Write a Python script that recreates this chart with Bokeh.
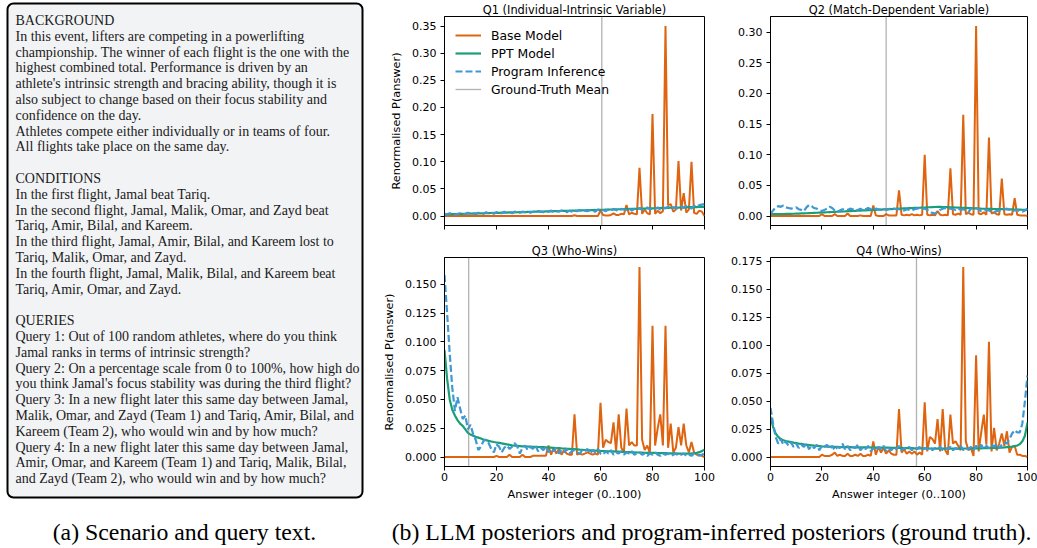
from bokeh.plotting import figure
from bokeh.layouts import row, column
from bokeh.models import (Range1d, FixedTicker, PrintfTickFormatter, Legend,
                          LegendItem, BoxAnnotation, ColumnDataSource)
from bokeh.core.properties import value
from bokeh.embed import file_html
from bokeh.resources import INLINE

# ---------------- data ----------------
answers = list(range(101))

base_q1 = [0.0]*50 + [0.0015] + [0.0]*9 + [
    0.010, 0.002, 0.001, 0.001, 0.002, 0.005, 0.002, 0.002, 0.004, 0.003,
    0.020, 0.003, 0.006, 0.004, 0.003, 0.089, 0.004, 0.012, 0.005, 0.003,
    0.188, 0.004, 0.010, 0.005, 0.009, 0.350, 0.020, 0.022, 0.008, 0.012,
    0.101, 0.010, 0.042, 0.006, 0.012, 0.100, 0.006, 0.004, 0.010, 0.008,
    0.000]
ppt_q1 = [
    0.0030, 0.0031, 0.0033, 0.0034, 0.0036, 0.0037, 0.0038, 0.0040, 0.0041, 0.0043,
    0.0044, 0.0045, 0.0047, 0.0048, 0.0050, 0.0051, 0.0052, 0.0054, 0.0055, 0.0057,
    0.0058, 0.0059, 0.0061, 0.0062, 0.0064, 0.0065, 0.0066, 0.0068, 0.0069, 0.0071,
    0.0072, 0.0073, 0.0075, 0.0076, 0.0078, 0.0079, 0.0080, 0.0082, 0.0083, 0.0085,
    0.0086, 0.0087, 0.0089, 0.0090, 0.0092, 0.0093, 0.0094, 0.0096, 0.0097, 0.0099,
    0.0100, 0.0101, 0.0103, 0.0104, 0.0106, 0.0107, 0.0108, 0.0110, 0.0111, 0.0113,
    0.0114, 0.0115, 0.0117, 0.0118, 0.0120, 0.0121, 0.0122, 0.0124, 0.0125, 0.0127,
    0.0128, 0.0129, 0.0131, 0.0132, 0.0134, 0.0135, 0.0136, 0.0138, 0.0139, 0.0141,
    0.0142, 0.0143, 0.0145, 0.0146, 0.0148, 0.0149, 0.0150, 0.0152, 0.0153, 0.0155,
    0.0156, 0.0157, 0.0159, 0.0160, 0.0162, 0.0163, 0.0164, 0.0165, 0.0166, 0.0167,
    0.0168]
prog_q1 = [
    0.004, 0.003, 0.005, 0.004, 0.002, 0.004, 0.005, 0.003, 0.004, 0.006,
    0.004, 0.005, 0.003, 0.006, 0.005, 0.004, 0.007, 0.005, 0.006, 0.004,
    0.007, 0.006, 0.005, 0.008, 0.006, 0.007, 0.005, 0.008, 0.007, 0.006,
    0.008, 0.007, 0.009, 0.006, 0.008, 0.007, 0.009, 0.008, 0.007, 0.009,
    0.008, 0.010, 0.007, 0.009, 0.008, 0.010, 0.009, 0.007, 0.010, 0.008,
    0.010, 0.009, 0.011, 0.008, 0.010, 0.009, 0.011, 0.010, 0.008, 0.012,
    0.010, 0.011, 0.009, 0.012, 0.010, 0.013, 0.011, 0.009, 0.013, 0.012,
    0.011, 0.014, 0.010, 0.013, 0.012, 0.015, 0.011, 0.013, 0.016, 0.012,
    0.014, 0.013, 0.016, 0.012, 0.015, 0.014, 0.017, 0.013, 0.016, 0.015,
    0.014, 0.017, 0.015, 0.018, 0.016, 0.014, 0.019, 0.017, 0.020, 0.021,
    0.022]

base_q2 = [0.0]*20 + [
    0.003, 0.000, 0.000, 0.000, 0.000, 0.003, 0.000, 0.000, 0.000, 0.000,
    0.004, 0.000, 0.000, 0.000, 0.000, 0.001, 0.000, 0.000, 0.000, 0.000,
    0.017, 0.001, 0.000, 0.000, 0.000, 0.003, 0.001, 0.001, 0.001, 0.001,
    0.042, 0.002, 0.001, 0.002, 0.001, 0.003, 0.001, 0.002, 0.001, 0.002,
    0.100, 0.002, 0.001, 0.002, 0.001, 0.008, 0.002, 0.001, 0.002, 0.001,
    0.078, 0.003, 0.002, 0.004, 0.002, 0.165, 0.003, 0.005, 0.003, 0.002,
    0.310, 0.004, 0.003, 0.006, 0.002, 0.128, 0.004, 0.006, 0.003, 0.002,
    0.061, 0.003, 0.002, 0.003, 0.002, 0.029, 0.002, 0.001, 0.001, 0.001,
    0.000]
ppt_q2 = [
    0.0030, 0.0030, 0.0031, 0.0031, 0.0032, 0.0033, 0.0034, 0.0035, 0.0036, 0.0037,
    0.0039, 0.0040, 0.0042, 0.0043, 0.0045, 0.0047, 0.0049, 0.0051, 0.0053, 0.0055,
    0.0057, 0.0059, 0.0061, 0.0063, 0.0065, 0.0067, 0.0069, 0.0071, 0.0073, 0.0075,
    0.0078, 0.0080, 0.0082, 0.0084, 0.0086, 0.0089, 0.0091, 0.0093, 0.0095, 0.0097,
    0.0099, 0.0101, 0.0103, 0.0105, 0.0107, 0.0109, 0.0111, 0.0113, 0.0115, 0.0117,
    0.0119, 0.0121, 0.0123, 0.0125, 0.0127, 0.0129, 0.0131, 0.0133, 0.0135, 0.0137,
    0.0139, 0.0141, 0.0143, 0.0145, 0.0147, 0.0148, 0.0148, 0.0147, 0.0146, 0.0145,
    0.0143, 0.0141, 0.0139, 0.0137, 0.0135, 0.0133, 0.0131, 0.0129, 0.0127, 0.0125,
    0.0123, 0.0121, 0.0119, 0.0118, 0.0117, 0.0116, 0.0115, 0.0114, 0.0113, 0.0112,
    0.0111, 0.0110, 0.0109, 0.0108, 0.0107, 0.0106, 0.0105, 0.0104, 0.0102, 0.0101,
    0.0100]
prog_q2 = [
    0.003, 0.009, 0.014, 0.016, 0.015, 0.017, 0.014, 0.013, 0.012, 0.013,
    0.014, 0.011, 0.010, 0.008, 0.014, 0.018, 0.016, 0.013, 0.012, 0.010,
    0.008, 0.010, 0.012, 0.015, 0.013, 0.009, 0.007, 0.009, 0.011, 0.010,
    0.010, 0.012, 0.011, 0.009, 0.010, 0.012, 0.009, 0.011, 0.013, 0.011,
    0.010, 0.012, 0.011, 0.010, 0.012, 0.010, 0.011, 0.013, 0.012, 0.011,
    0.011, 0.010, 0.009, 0.011, 0.010, 0.009, 0.011, 0.012, 0.013, 0.012,
    0.012, 0.010, 0.006, 0.005, 0.004, 0.007, 0.010, 0.012, 0.013, 0.012,
    0.012, 0.011, 0.010, 0.012, 0.010, 0.011, 0.009, 0.006, 0.012, 0.013,
    0.013, 0.011, 0.008, 0.009, 0.010, 0.009, 0.007, 0.006, 0.008, 0.009,
    0.010, 0.011, 0.012, 0.010, 0.008, 0.009, 0.010, 0.008, 0.007, 0.009,
    0.012]

base_q3 = [0.0]*20 + [
    0.001, 0.000, 0.000, 0.000, 0.000, 0.002, 0.000, 0.000, 0.000, 0.000,
    0.002, 0.000, 0.000, 0.000, 0.001, 0.001, 0.001, 0.001, 0.001, 0.001,
    0.010, 0.002, 0.008, 0.003, 0.007, 0.002, 0.006, 0.003, 0.002, 0.002,
    0.037, 0.002, 0.003, 0.002, 0.003, 0.004, 0.003, 0.002, 0.003, 0.002,
    0.047, 0.008, 0.015, 0.013, 0.012, 0.030, 0.005, 0.037, 0.008, 0.004,
    0.042, 0.010, 0.013, 0.010, 0.010, 0.165, 0.015, 0.006, 0.010, 0.003,
    0.114, 0.010, 0.025, 0.037, 0.010, 0.114, 0.008, 0.029, 0.004, 0.008,
    0.026, 0.010, 0.029, 0.010, 0.004, 0.013, 0.004, 0.002, 0.002, 0.001,
    0.000]
ppt_q3 = [
    0.0930, 0.0680, 0.0500, 0.0410, 0.0360, 0.0320, 0.0290, 0.0270, 0.0240, 0.0210,
    0.0195, 0.0185, 0.0175, 0.0168, 0.0160, 0.0152, 0.0146, 0.0140, 0.0135, 0.0130,
    0.0126, 0.0122, 0.0118, 0.0114, 0.0110, 0.0106, 0.0102, 0.0099, 0.0097, 0.0095,
    0.0093, 0.0092, 0.0091, 0.0090, 0.0089, 0.0088, 0.0087, 0.0086, 0.0085, 0.0084,
    0.0082, 0.0081, 0.0080, 0.0078, 0.0077, 0.0075, 0.0074, 0.0072, 0.0071, 0.0069,
    0.0068, 0.0066, 0.0064, 0.0063, 0.0061, 0.0060, 0.0058, 0.0057, 0.0056, 0.0055,
    0.0053, 0.0052, 0.0051, 0.0050, 0.0049, 0.0048, 0.0047, 0.0046, 0.0045, 0.0044,
    0.0043, 0.0042, 0.0041, 0.0040, 0.0039, 0.0039, 0.0038, 0.0037, 0.0036, 0.0036,
    0.0035, 0.0035, 0.0034, 0.0034, 0.0033, 0.0033, 0.0032, 0.0032, 0.0031, 0.0031,
    0.0030, 0.0030, 0.0030, 0.0030, 0.0030, 0.0031, 0.0033, 0.0036, 0.0042, 0.0051,
    0.0064]
prog_q3 = [
    0.158, 0.125, 0.090, 0.060, 0.040, 0.052, 0.042, 0.033, 0.036, 0.024,
    0.028, 0.020, 0.015, 0.006, 0.009, 0.014, 0.015, 0.012, 0.007, 0.004,
    0.011, 0.009, 0.004, 0.008, 0.010, 0.007, 0.009, 0.012, 0.009, 0.003,
    0.008, 0.010, 0.006, 0.009, 0.007, 0.010, 0.005, 0.008, 0.006, 0.009,
    0.004, 0.007, 0.005, 0.008, 0.003, 0.006, 0.004, 0.007, 0.003, 0.005,
    0.006, 0.004, 0.003, 0.006, 0.005, 0.007, 0.003, 0.006, 0.004, 0.007,
    0.003, 0.002, 0.005, 0.003, 0.006, 0.002, 0.004, 0.003, 0.005, 0.002,
    0.004, 0.003, 0.005, 0.002, 0.003, 0.004, 0.002, 0.003, 0.001, 0.003,
    0.002, 0.004, 0.002, 0.001, 0.003, 0.002, 0.003, 0.001, 0.002, 0.003,
    0.001, 0.002, 0.003, 0.001, 0.002, 0.001, 0.003, 0.002, 0.001, 0.002,
    0.003]

base_q4 = [0.0]*20 + [
    0.002, 0.001, 0.001, 0.001, 0.002, 0.004, 0.001, 0.002, 0.001, 0.001,
    0.003, 0.001, 0.001, 0.002, 0.001, 0.003, 0.001, 0.001, 0.002, 0.001,
    0.014, 0.002, 0.009, 0.004, 0.008, 0.003, 0.006, 0.003, 0.002, 0.002,
    0.043, 0.004, 0.007, 0.003, 0.005, 0.003, 0.005, 0.002, 0.004, 0.002,
    0.049, 0.005, 0.018, 0.016, 0.012, 0.034, 0.005, 0.043, 0.006, 0.002,
    0.038, 0.012, 0.014, 0.010, 0.006, 0.170, 0.014, 0.006, 0.008, 0.001,
    0.091, 0.005, 0.022, 0.038, 0.011, 0.103, 0.005, 0.026, 0.006, 0.012,
    0.021, 0.010, 0.023, 0.004, 0.009, 0.010, 0.002, 0.002, 0.001, 0.001,
    0.000]
ppt_q4 = [
    0.0360, 0.0270, 0.0210, 0.0180, 0.0160, 0.0150, 0.0143, 0.0138, 0.0133, 0.0128,
    0.0124, 0.0120, 0.0117, 0.0113, 0.0110, 0.0107, 0.0104, 0.0101, 0.0099, 0.0097,
    0.0095, 0.0094, 0.0093, 0.0092, 0.0091, 0.0090, 0.0090, 0.0089, 0.0089, 0.0088,
    0.0088, 0.0088, 0.0087, 0.0087, 0.0087, 0.0086, 0.0086, 0.0086, 0.0085, 0.0085,
    0.0085, 0.0084, 0.0084, 0.0084, 0.0083, 0.0083, 0.0083, 0.0082, 0.0082, 0.0082,
    0.0081, 0.0081, 0.0080, 0.0080, 0.0079, 0.0079, 0.0078, 0.0078, 0.0077, 0.0077,
    0.0077, 0.0076, 0.0076, 0.0076, 0.0075, 0.0075, 0.0075, 0.0075, 0.0075, 0.0075,
    0.0075, 0.0075, 0.0075, 0.0075, 0.0075, 0.0076, 0.0076, 0.0076, 0.0077, 0.0077,
    0.0077, 0.0078, 0.0078, 0.0079, 0.0079, 0.0080, 0.0081, 0.0081, 0.0082, 0.0083,
    0.0084, 0.0086, 0.0088, 0.0090, 0.0093, 0.0097, 0.0103, 0.0115, 0.0140, 0.0190,
    0.0310]
prog_q4 = [
    0.044, 0.030, 0.018, 0.012, 0.016, 0.011, 0.014, 0.010, 0.013, 0.009,
    0.012, 0.008, 0.011, 0.009, 0.012, 0.007, 0.010, 0.008, 0.011, 0.006,
    0.010, 0.009, 0.011, 0.007, 0.010, 0.006, 0.009, 0.008, 0.012, 0.007,
    0.010, 0.006, 0.009, 0.008, 0.011, 0.006, 0.009, 0.007, 0.010, 0.005,
    0.008, 0.006, 0.009, 0.007, 0.010, 0.005, 0.008, 0.006, 0.009, 0.007,
    0.010, 0.006, 0.008, 0.007, 0.009, 0.006, 0.008, 0.007, 0.009, 0.006,
    0.008, 0.007, 0.009, 0.006, 0.008, 0.007, 0.009, 0.006, 0.008, 0.007,
    0.009, 0.006, 0.008, 0.007, 0.010, 0.006, 0.008, 0.007, 0.009, 0.006,
    0.010, 0.008, 0.011, 0.007, 0.010, 0.008, 0.011, 0.009, 0.012, 0.008,
    0.011, 0.013, 0.012, 0.016, 0.021, 0.024, 0.022, 0.022, 0.030, 0.050,
    0.073]

gt_means = [60.5, 45.0, 9.3, 56.8]
titles = ["Q1 (Individual-Intrinsic Variable)", "Q2 (Match-Dependent Variable)",
          "Q3 (Who-Wins)", "Q4 (Who-Wins)"]
x_ticks = [0, 20, 40, 60, 80, 100]
y_ticks = [
    [0.00, 0.05, 0.10, 0.15, 0.20, 0.25, 0.30, 0.35],
    [0.00, 0.05, 0.10, 0.15, 0.20, 0.25, 0.30],
    [0.000, 0.025, 0.050, 0.075, 0.100, 0.125, 0.150],
    [0.000, 0.025, 0.050, 0.075, 0.100, 0.125, 0.150, 0.175],
]
y_formats = ["%.2f", "%.2f", "%.3f", "%.3f"]
series_labels = ["Base Model", "PPT Model", "Program Inference", "Ground-Truth Mean"]
y_label = "Renormalised P(answer)"
x_label = "Answer integer (0..100)"

scenario_lines = [
    "BACKGROUND",
    "In this event, lifters are competing in a powerlifting",
    "championship. The winner of each flight is the one with the",
    "highest combined total. Performance is driven by an",
    "athlete's intrinsic strength and bracing ability, though it is",
    "also subject to change based on their focus stability and",
    "confidence on the day.",
    "Athletes compete either individually or in teams of four.",
    "All flights take place on the same day.",
    "",
    "CONDITIONS",
    "In the first flight, Jamal beat Tariq.",
    "In the second flight, Jamal, Malik, Omar, and Zayd beat",
    "Tariq, Amir, Bilal, and Kareem.",
    "In the third flight, Jamal, Amir, Bilal, and Kareem lost to",
    "Tariq, Malik, Omar, and Zayd.",
    "In the fourth flight, Jamal, Malik, Bilal, and Kareem beat",
    "Tariq, Amir, Omar, and Zayd.",
    "",
    "QUERIES",
    "Query 1: Out of 100 random athletes, where do you think",
    "Jamal ranks in terms of intrinsic strength?",
    "Query 2: On a percentage scale from 0 to 100%, how high do",
    "you think Jamal's focus stability was during the third flight?",
    "Query 3: In a new flight later this same day between Jamal,",
    "Malik, Omar, and Zayd (Team 1) and Tariq, Amir, Bilal, and",
    "Kareem (Team 2), who would win and by how much?",
    "Query 4: In a new flight later this same day between Jamal,",
    "Amir, Omar, and Kareem (Team 1) and Tariq, Malik, Bilal,",
    "and Zayd (Team 2), who would win and by how much?",
]
captions = ["(a) Scenario and query text.",
            "(b) LLM posteriors and program-inferred posteriors (ground truth)."]

bases = [base_q1, base_q2, base_q3, base_q4]
ppts = [ppt_q1, ppt_q2, ppt_q3, ppt_q4]
progs = [prog_q1, prog_q2, prog_q3, prog_q4]

# ---------------- style ----------------
C_BASE = "#df6410"
C_PPT = "#1a9e77"
C_PROG = "#3d98d3"
C_GT = "#808080"
SANS = "DejaVu Sans"
SERIF = "Liberation Serif"


def y_limits(i):
    hi = max(max(bases[i]), max(ppts[i]), max(progs[i]))
    pad = 0.05 * hi
    return -pad, hi + pad


def make_panel(i, width, height, mbl, mbr, mbt, mbb, show_xlabels, show_ylabel, legend):
    lo, hi = y_limits(i)
    p = figure(width=width, height=height, x_range=Range1d(0, 100), y_range=Range1d(lo, hi),
               output_backend="svg", toolbar_location=None, title=titles[i],
               min_border_left=mbl, min_border_right=mbr, min_border_top=mbt,
               min_border_bottom=mbb)
    p.title.align = "center"
    p.title.text_font = SANS
    p.title.text_font_style = "normal"
    p.title.text_font_size = "11.4px"
    p.title.text_color = "black"
    p.title.standoff = 0
    p.grid.visible = False
    p.outline_line_color = "black"
    p.outline_line_alpha = 1
    p.outline_line_width = 1
    p.background_fill_color = "white"
    p.border_fill_color = "white"

    p.xaxis.ticker = FixedTicker(ticks=x_ticks)
    p.yaxis.ticker = FixedTicker(ticks=y_ticks[i])
    p.yaxis.formatter = PrintfTickFormatter(format=y_formats[i])
    for ax in (p.xaxis, p.yaxis):
        ax.axis_line_color = "black"
        ax.major_tick_line_color = "black"
        ax.major_tick_in = 0
        ax.major_tick_out = 4
        ax.minor_tick_line_color = None
        ax.major_label_text_font = SANS
        ax.major_label_text_font_size = "11px"
        ax.major_label_text_color = "black"
        ax.axis_label_text_font = SANS
        ax.axis_label_text_font_size = "11.3px"
        ax.axis_label_text_font_style = "normal"
        ax.axis_label_text_color = "black"
    p.yaxis.major_label_standoff = 4
    p.xaxis.major_label_standoff = 2
    p.xaxis.axis_label_standoff = 4
    p.yaxis.axis_label_standoff = 6
    if show_xlabels:
        p.xaxis.axis_label = x_label
    else:
        p.xaxis.major_label_overrides = {t: "" for t in x_ticks}
    if show_ylabel:
        p.yaxis.axis_label = y_label

    src = ColumnDataSource(dict(x=answers, base=bases[i], ppt=ppts[i], prog=progs[i]))
    r_base = p.line("x", "base", source=src, line_color=C_BASE, line_width=2.0)
    r_ppt = p.line("x", "ppt", source=src, line_color=C_PPT, line_width=2.2)
    r_prog = p.line("x", "prog", source=src, line_color=C_PROG, line_width=2.2,
                    line_dash="7 3")
    r_gt = p.segment(x0=[gt_means[i]], y0=[lo], x1=[gt_means[i]], y1=[hi],
                     line_color=C_GT, line_alpha=0.6, line_width=1.3)
    if legend:
        leg = Legend(items=[LegendItem(label=series_labels[0], renderers=[r_base]),
                            LegendItem(label=series_labels[1], renderers=[r_ppt]),
                            LegendItem(label=series_labels[2], renderers=[r_prog]),
                            LegendItem(label=series_labels[3], renderers=[r_gt])],
                     location="top_left")
        leg.background_fill_alpha = 0
        leg.border_line_alpha = 0
        leg.label_text_font = SANS
        leg.label_text_font_size = "12.4px"
        leg.label_text_color = "black"
        leg.glyph_width = 26
        leg.glyph_height = 16
        leg.label_height = 16
        leg.spacing = 2
        leg.padding = 6
        leg.margin = 5
        leg.label_standoff = 10
        p.add_layout(leg)
    return p


# ---------------- layout ----------------
TOP_H = 505
TEXT_W, LEFT_W, RIGHT_W = 380, 348, 309
Q_TOP_H = 236

p1 = make_panel(0, LEFT_W, Q_TOP_H, 63, 24, 15, 11, False, True, True)
p2 = make_panel(1, RIGHT_W, Q_TOP_H, 39, 10, 15, 11, False, False, False)
p3 = make_panel(2, LEFT_W, TOP_H - Q_TOP_H, 63, 24, 21, 39, True, True, False)
p4 = make_panel(3, RIGHT_W, TOP_H - Q_TOP_H, 39, 10, 21, 39, True, False, False)

# scenario text panel
t = figure(width=TEXT_W, height=TOP_H, x_range=Range1d(0, TEXT_W), y_range=Range1d(TOP_H, 0),
           output_backend="svg", toolbar_location=None, x_axis_type=None, y_axis_type=None,
           min_border=0)
t.grid.visible = False
t.outline_line_color = None
t.add_layout(BoxAnnotation(left=7, right=362, top=3, bottom=497, fill_color="#f2f3f5",
                           fill_alpha=1, line_color="black", line_alpha=1, line_width=2,
                           border_radius=6, level="underlay"))
line_gap = 15.8
ys = [20 + line_gap * k for k in range(len(scenario_lines))]
tsrc = ColumnDataSource(dict(x=[15] * len(scenario_lines), y=ys, text=scenario_lines))
t.text("x", "y", text="text", source=tsrc, text_font=value(SERIF), text_font_size="14px",
       text_baseline="middle", text_align="left", text_color="#1a1a1a")

# caption panel
CAP_W, CAP_H = 1037, 41
c = figure(width=CAP_W, height=CAP_H, x_range=Range1d(0, CAP_W), y_range=Range1d(CAP_H, 0),
           output_backend="svg", toolbar_location=None, x_axis_type=None, y_axis_type=None,
           min_border=0)
c.grid.visible = False
c.outline_line_color = None
csrc = ColumnDataSource(dict(x=[184, 711], y=[26, 26], text=captions))
c.text("x", "y", text="text", source=csrc, text_font=value(SERIF), text_font_size="23.8px",
       text_baseline="middle", text_align="center", text_color="black")

layout = column(row(t, column(p1, p3), column(p2, p4)), c)

open("out.html", "w").write(file_html(layout, INLINE))
